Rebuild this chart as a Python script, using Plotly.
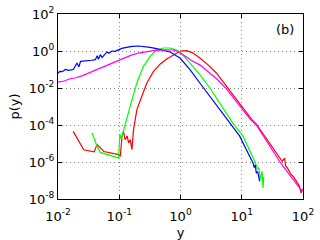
import plotly.graph_objects as go

# ---- data ----
blue_x = [0.0100, 0.0107, 0.01175, 0.0132, 0.0148, 0.0178, 0.0204, 0.0219, 0.0234, 0.0282,
          0.0355, 0.0407, 0.0437, 0.0457, 0.0490, 0.0525, 0.0589, 0.0630, 0.0676, 0.0759,
          0.0851, 0.100, 0.110, 0.132, 0.162, 0.209, 0.263, 0.316, 0.389, 0.501, 0.676,
          0.98, 1.43, 2.07, 3.02, 4.39, 6.38, 9.27, 11.9, 15.3, 16.0, 16.6, 17.3, 18.2, 19.6]
blue_y = [0.063, 0.079, 0.076, 0.100, 0.089, 0.100, 0.224, 0.141, 0.275, 0.282,
          0.316, 0.339, 0.562, 0.355, 0.631, 0.447, 0.661, 0.891, 0.759, 1.00,
          0.955, 1.20, 1.38, 1.58, 1.78, 1.86, 1.78, 1.58, 1.38, 1.12, 0.89,
          0.417, 0.098, 0.0186, 0.00355, 6.8e-4, 1.26e-4, 2.5e-5, 4.6e-6, 8.9e-7, 5.0e-7, 7.0e-7, 2.5e-7, 3.0e-7, 8.9e-8]

magenta_x = [0.0100, 0.0126, 0.0158, 0.0191, 0.0251, 0.0316, 0.0398, 0.0501, 0.0589, 0.0794,
             0.110, 0.151, 0.204, 0.282, 0.389, 0.631, 0.80, 1.10, 1.58, 2.07, 2.82, 3.88,
             5.62, 7.69, 13.8, 17.3, 41.5, 60.0, 87.7, 97.7]
magenta_y = [0.0209, 0.0240, 0.0316, 0.0347, 0.0468, 0.0646, 0.0891, 0.120, 0.148, 0.240,
             0.380, 0.562, 0.776, 0.955, 1.07, 1.17, 1.10, 0.63, 0.282, 0.178, 0.0794, 0.0316,
             8.9e-3, 2.3e-3, 2.0e-4, 1.0e-4, 1.07e-6, 2.1e-7, 3.98e-8, 2.5e-8]

green_x = [0.0360, 0.0434, 0.0491, 0.0631, 0.0794, 0.0975, 0.102, 0.107, 0.111, 0.117,
           0.125, 0.142, 0.161, 0.194, 0.248, 0.319, 0.410, 0.525, 0.675, 0.867, 1.00,
           1.43, 2.07, 3.02, 4.39, 6.38, 7.14, 10.5, 13.5, 16.3, 18.4, 19.0, 20.0,
           21.4, 22.2, 22.9]
green_y = [3.7e-5, 6.9e-6, 3.3e-6, 2.5e-6, 2.0e-6, 1.66e-6, 3.2e-5, 1.8e-5, 2.5e-5, 5.0e-5,
           8.3e-5, 4.5e-4, 2.3e-3, 0.0186, 0.148, 0.513, 1.17, 1.45, 1.45, 1.12, 0.83,
           0.224, 0.0525, 0.0100, 1.55e-3, 2.4e-4, 1.26e-4, 2.5e-5, 4.6e-6, 1.07e-6, 4.0e-7, 5.0e-7, 1.1e-7,
           3.2e-7, 4.0e-8, 1.6e-7]

red_x = [0.0177, 0.0263, 0.0389, 0.0434, 0.0562, 0.0975, 0.104, 0.111, 0.117, 0.125,
         0.135, 0.142, 0.151, 0.161, 0.171, 0.194, 0.234, 0.282, 0.363, 0.468, 0.603,
         0.776, 1.00, 1.26, 1.58, 2.07, 2.82, 3.88, 5.89, 8.13, 14.5, 17.3, 31.6, 45.7, 50.1, 52.0, 57.5,
         63.1, 70.0, 79.4, 87.1, 93.3, 97.7]
red_y = [4.5e-5, 4.6e-6, 3.5e-6, 8.7e-6, 3.7e-6, 2.5e-6, 2.0e-6, 2.5e-5, 4.5e-5, 1.6e-5,
         2.5e-5, 1.07e-5, 1.6e-5, 4.6e-6, 5.6e-5, 6.8e-4, 3.55e-3, 0.0186, 0.0794, 0.200, 0.380,
         0.63, 1.00, 1.05, 0.794, 0.417, 0.178, 0.063, 0.0100, 2.3e-3, 2.0e-4, 1.1e-4, 6.3e-6, 1.1e-6, 1.6e-6, 6.3e-7, 4.0e-7,
         2.2e-7, 1.6e-7, 7.9e-8, 5.0e-8, 2.1e-8, 3.5e-8]

x_tick_vals = [0.01, 0.1, 1, 10, 100]
x_tick_text = ["10<sup>-2</sup>", "10<sup>-1</sup>", "10<sup>0</sup>", "10<sup>1</sup>", "10<sup>2</sup>"]
y_tick_vals = [1e2, 1, 1e-2, 1e-4, 1e-6, 1e-8]
y_tick_text = ["10<sup>2</sup>", "10<sup>0</sup>", "10<sup>-2</sup>", "10<sup>-4</sup>", "10<sup>-6</sup>", "10<sup>-8</sup>"]

fig = go.Figure()
for xs, ys, col in [(red_x, red_y, "#ff0000"), (green_x, green_y, "#00ff00"),
                    (blue_x, blue_y, "#0000ff"), (magenta_x, magenta_y, "#ff00ff")]:
    fig.add_trace(go.Scatter(x=xs, y=ys, mode="lines", line=dict(color=col, width=1.2),
                             showlegend=False, hoverinfo="skip"))

font = dict(family="DejaVu Sans", size=13, color="black")
axis_common = dict(type="log", showline=True, linecolor="black", linewidth=1, mirror="allticks",
                   ticks="inside", ticklen=4, tickcolor="black", showgrid=True,
                   gridcolor="#808080", griddash="1px,3px", gridwidth=1, zeroline=False,
                   tickfont=font, automargin=False, ticklabeloverflow="allow")
fig.update_xaxes(range=[-2, 2], tickvals=x_tick_vals, ticktext=x_tick_text, ticklabelstandoff=5,
                 title=dict(text="y", font=font, standoff=6), **axis_common)
fig.update_yaxes(range=[-8, 2], tickvals=y_tick_vals, ticktext=y_tick_text,
                 title=dict(text="p(y)", font=font, standoff=6), **axis_common)

fig.add_annotation(x=0.97, y=0.97, xref="paper", yref="paper", text="(b)", showarrow=False,
                   xanchor="right", yanchor="top", font=font)

fig.update_layout(width=320, height=240, margin=dict(l=58, r=17, t=14, b=41),
                  paper_bgcolor="white", plot_bgcolor="white", font=font)

# remove the default page margin so the figure fills the 320x240 view exactly
fig.write_html("out.html", config={"displayModeBar": False},
               post_script="document.body.style.margin='0';document.body.style.overflow='hidden';")
